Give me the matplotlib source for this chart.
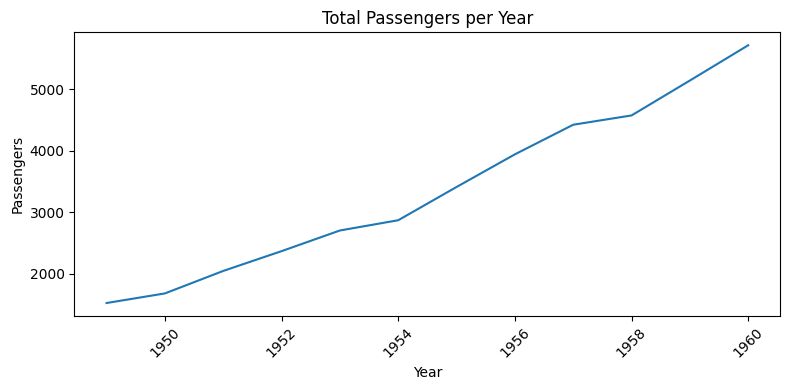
import matplotlib
matplotlib.use("Agg")
import matplotlib.pyplot as plt

years = [1949, 1950, 1951, 1952, 1953, 1954, 1955, 1956, 1957, 1958, 1959, 1960]
passengers = [1520, 1676, 2042, 2364, 2700, 2867, 3408, 3939, 4421, 4572, 5140, 5714]

fig, ax = plt.subplots(figsize=(7.9, 3.9), dpi=100)
ax.plot(years, passengers, color="#1f77b4")
ax.set_title("Total Passengers per Year")
ax.set_xlabel("Year")
ax.set_ylabel("Passengers")
plt.setp(ax.get_xticklabels(), rotation=45)
fig.subplots_adjust(left=0.0943, right=0.9877, top=0.917, bottom=0.19)
fig.savefig("out.png")
